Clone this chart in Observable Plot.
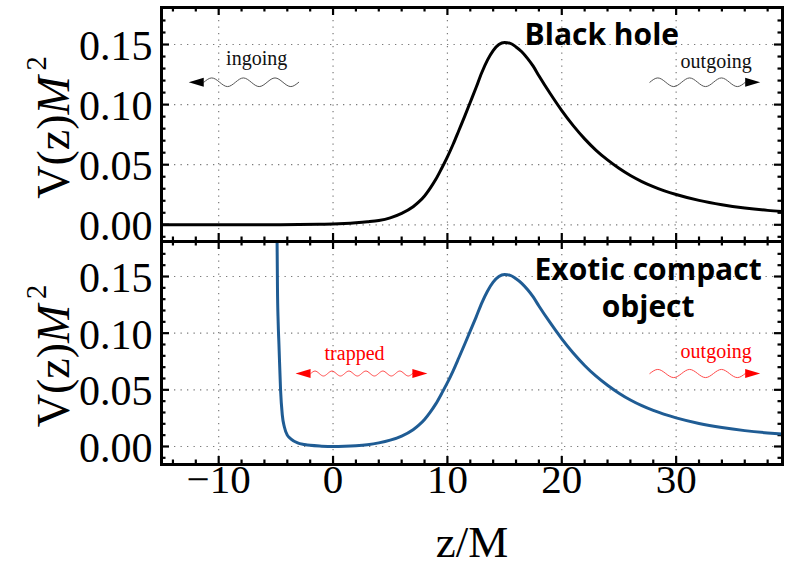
<!DOCTYPE html>
<html><head><meta charset="utf-8">
<script src="https://cdn.jsdelivr.net/npm/d3@7"></script>
<script src="https://cdn.jsdelivr.net/npm/@observablehq/plot@0.6"></script>
<style>
html,body{margin:0;padding:0;background:#fff;}
#chart{position:relative;width:786px;height:567px;overflow:hidden;background:#fff;}
#chart svg{position:absolute;left:0;}
</style></head><body><div id="chart"></div>
<script>
// ---- axes / ticks ----
const xDomain = [-15, 39.3];
const xMajor = [-10, 0, 10, 20, 30];
const xTickLabels = ["−10", "0", "10", "20", "30"];
const xMinor = [-14,-12,-8,-6,-4,-2,2,4,6,8,12,14,16,18,22,24,26,28,32,34,36,38];
const yMajor = [0, 0.05, 0.10, 0.15];
const yTickLabels = ["0.00", "0.05", "0.10", "0.15"];
const yMinor = [-0.01,0.01,0.02,0.03,0.04,0.06,0.07,0.08,0.09,0.11,0.12,0.13,0.14,0.16,0.17];

// ---- black hole potential (top panel) ----
const bhZ = [-15,-10,-6,-3,-1,0,1,2,3,4,5,6,7,7.5,8,8.5,9,9.5,10,10.5,11,11.5,12,12.5,13,13.5,14,14.5,15,15.5,16,16.5,17,17.5,18,19,20,21,22,23,24,25,26,27,28,30,32,34,36,38,39.3];
const bhV = [0,0,0.0001,0.0002,0.0005,0.0007,0.0011,0.0017,0.0025,0.0036,0.0058,0.0095,0.0150,0.0190,0.0240,0.0305,0.0380,0.0470,0.0565,0.0670,0.0785,0.0900,0.1020,0.1140,0.1265,0.1370,0.1450,0.1500,0.1517,0.1510,0.1480,0.1440,0.1385,0.1320,0.1240,0.1090,0.0950,0.0825,0.0715,0.0620,0.0540,0.0470,0.0410,0.0360,0.0318,0.0252,0.0203,0.0167,0.0140,0.0120,0.0110];

// ---- exotic compact object potential (bottom panel) ----
const ecoZ = [-4.95,-4.90,-4.86,-4.80,-4.73,-4.59,-4.44,-4.25,-4.0,-3.7,-3.1,-2.5,-2.0,-1.0,0,1,2,3,4,5,6,7,7.5,8,8.5,9,9.5,10,10.5,11,11.5,12,12.5,13,13.5,14,14.5,15,15.5,16,16.5,17,17.5,18,19,20,21,22,23,24,25,26,27,28,30,32,34,36,38,39.3];
const ecoV = [0.25,0.19,0.14,0.11,0.090,0.050,0.028,0.017,0.010,0.0068,0.0032,0.0018,0.0010,0.0003,0,0.0002,0.0007,0.0016,0.0032,0.0056,0.0092,0.0148,0.0188,0.0238,0.0303,0.0378,0.0468,0.0563,0.0668,0.0783,0.0900,0.1020,0.1140,0.1265,0.1370,0.1450,0.1500,0.1517,0.1510,0.1480,0.1440,0.1385,0.1320,0.1240,0.1090,0.0950,0.0825,0.0715,0.0620,0.0540,0.0470,0.0410,0.0360,0.0318,0.0252,0.0203,0.0167,0.0140,0.0120,0.0110];

// ---- annotations ----
const topTitles = [{x: 23.5, y: 0.1494, t: "Black hole"}];
const botTitles = [{x: 27.55, y: 0.1139, t: "Exotic compact\nobject"}];
const topLabels = [{x: -6.68, y: 0.1328, t: "ingoing"}, {x: 33.5, y: 0.1308, t: "outgoing"}];
const botLabels = [{x: 1.88, y: 0.0765, t: "trapped"}, {x: 33.5, y: 0.0777, t: "outgoing"}];
// waves: start, end, level, periods, amplitude (value units)
const topWaves = [{a: -11.3, b: -3.0, y: 0.1186, n: 3, amp: 0.0036}, {a: 27.7, b: 36.05, y: 0.1186, n: 3, amp: 0.0036}];
const botWaves = [{a: -1.95, b: 6.95, y: 0.0644, n: 6, amp: 0.0022}, {a: 27.7, b: 36.05, y: 0.0644, n: 3, amp: 0.0036}];
const topHeads = [{x: -12.62, y: 0.1186, rot: 180}, {x: 37.35, y: 0.1186, rot: 0}];
const botHeads = [{x: -3.28, y: 0.0644, rot: 180}, {x: 8.25, y: 0.0644, rot: 0}, {x: 37.35, y: 0.0644, rot: 0}];

const arrowHead = {draw(ctx) { ctx.moveTo(0, 0); ctx.lineTo(-15, -4.5); ctx.lineTo(-15, 4.5); ctx.closePath(); }};

function wavePoints(w, id) {
  const pts = [];
  const q = w.n * 4;
  for (let k = 0; k <= q; k++) {
    const s = k % 4;
    const off = s === 1 ? w.amp : s === 3 ? -w.amp : 0;
    pts.push({x: w.a + (w.b - w.a) * k / q, y: w.y + off, id});
  }
  return pts;
}

function buildPanel(o) {
  const W = 786, ml = 161, mr = 4;
  const innerW = W - ml - mr, innerH = o.height - o.mt - o.mb;
  const [ya, yb] = o.yDomain, [xa, xb] = xDomain;
  const uX = (xb - xa) / innerW, uY = (yb - ya) / innerH;
  const curve = o.zs.map((z, i) => ({z, v: o.vs[i]}));
  const waves = o.waves.flatMap((w, i) => wavePoints(w, i));
  const tk = {stroke: "#000", strokeWidth: 2.2};
  const LM = 8, Lm = 4.5;
  const marks = [
    Plot.ruleX(xMajor, {x: d => d, stroke: "#7a7a7a", strokeWidth: 1.2, strokeDasharray: "1.3,5.2"}),
    Plot.ruleY(yMajor, {y: d => d, stroke: "#7a7a7a", strokeWidth: 1.2, strokeDasharray: "1.3,5.2"}),
    Plot.ruleX(xMajor, {x: d => d, y1: ya, y2: ya + LM * uY, ...tk}),
    Plot.ruleX(xMajor, {x: d => d, y1: yb - LM * uY, y2: yb, ...tk}),
    Plot.ruleX(xMinor, {x: d => d, y1: ya, y2: ya + Lm * uY, ...tk}),
    Plot.ruleX(xMinor, {x: d => d, y1: yb - Lm * uY, y2: yb, ...tk}),
    Plot.ruleY(yMajor, {y: d => d, x1: xa, x2: xa + LM * uX, ...tk}),
    Plot.ruleY(yMajor, {y: d => d, x1: xb - LM * uX, x2: xb, ...tk}),
    Plot.ruleY(yMinor, {y: d => d, x1: xa, x2: xa + Lm * uX, ...tk}),
    Plot.ruleY(yMinor, {y: d => d, x1: xb - Lm * uX, x2: xb, ...tk}),
    Plot.line(curve, {x: "z", y: "v", stroke: o.color, strokeWidth: 3, curve: "monotone-x", clip: true}),
    Plot.line(waves, {x: "x", y: "y", z: "id", stroke: o.waveColor, strokeWidth: 1, curve: "natural"}),
    Plot.dot(o.heads, {x: "x", y: "y", rotate: "rot", symbol: arrowHead, fill: o.headColor, stroke: "none"}),
    Plot.text(o.labels, {x: "x", y: "y", text: "t", fill: o.labelColor, fontSize: 20, lineAnchor: "bottom", fontFamily: "Liberation Serif"}),
    Plot.text(o.titles, {x: "x", y: "y", text: "t", fill: "#000", fontSize: 30, lineHeight: 1.233, fontWeight: "bold", lineAnchor: "bottom", fontFamily: "Open Sans"}),
    Plot.frame({stroke: "#000", strokeWidth: 3}),
    Plot.text(yTickLabels, {y: d => +d, text: d => d, frameAnchor: "left", dx: -9, dy: 2, textAnchor: "end", fontSize: 42, fill: "#000"}),
    Plot.text(["V(z)M2"], {text: d => d, frameAnchor: "left", dx: -93, dy: 3, rotate: -90, textAnchor: "middle", lineAnchor: "bottom", fontSize: 46, fill: "#000"})
  ];
  if (o.showX) {
    marks.push(Plot.text(xMajor, {x: d => d, text: (d, i) => xTickLabels[i], frameAnchor: "bottom", dy: 28.5, fontSize: 41, fill: "#000"}));
    marks.push(Plot.text(["z/M"], {text: d => d, frameAnchor: "bottom", dy: 92, lineAnchor: "bottom", textAnchor: "middle", fontSize: 45, fill: "#000"}));
  }
  const svg = Plot.plot({
    width: W, height: o.height, marginLeft: ml, marginRight: mr, marginTop: o.mt, marginBottom: o.mb,
    x: {domain: xDomain, axis: null},
    y: {domain: o.yDomain, axis: null},
    style: {fontFamily: "Liberation Serif", background: "transparent", overflow: "visible", maxWidth: "none"},
    marks
  });
  d3.select(svg).selectAll("text").filter(function() { return this.textContent === "V(z)M2"; })
    .each(function() {
      const s = d3.select(this);
      s.text(null);
      s.append("tspan").text("V(z)");
      s.append("tspan").attr("font-style", "italic").text("M");
      s.append("tspan").attr("font-size", "0.62em").attr("dx", "0.2em").attr("dy", "-0.8em").text("2");
    });
  return svg;
}

const chartEl = document.getElementById("chart");
const topPanel = buildPanel({height: 245, mt: 7, mb: 4, yDomain: [-0.0139, 0.1808], zs: bhZ, vs: bhV, color: "#000",
  waves: topWaves, heads: topHeads, labels: topLabels, titles: topTitles,
  waveColor: "#555", headColor: "#000", labelColor: "#111", showX: false});
topPanel.style.top = "0px";
chartEl.appendChild(topPanel);
const botPanel = buildPanel({height: 330, mt: 4, mb: 103, yDomain: [-0.0159, 0.1809], zs: ecoZ, vs: ecoV, color: "#1f5c94",
  waves: botWaves, heads: botHeads, labels: botLabels, titles: botTitles,
  waveColor: "#ff4a4a", headColor: "#ff0000", labelColor: "#ff0000", showX: true});
botPanel.style.top = "237px";
chartEl.appendChild(botPanel);
</script></body></html>
